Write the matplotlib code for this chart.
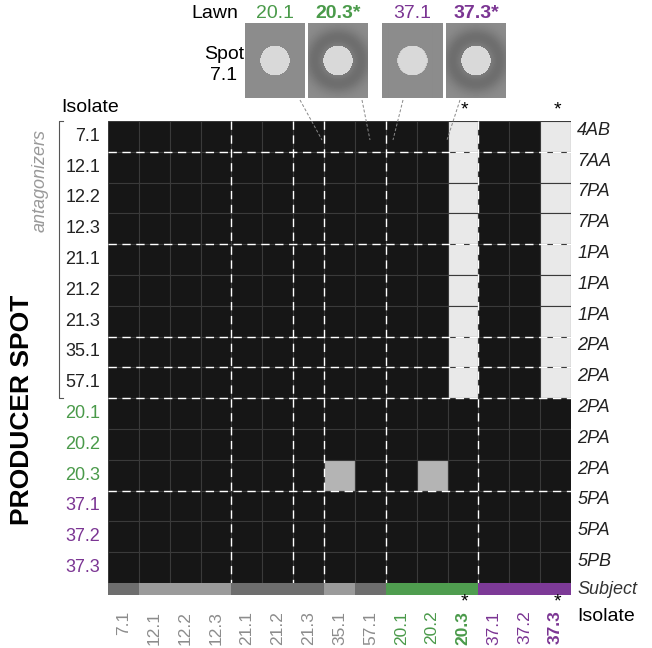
import matplotlib.pyplot as plt
import numpy as np
from matplotlib.patches import Rectangle

plt.rcParams["font.family"] = "Liberation Sans"

isolates = ["7.1", "12.1", "12.2", "12.3", "21.1", "21.2", "21.3", "35.1", "57.1",
            "20.1", "20.2", "20.3", "37.1", "37.2", "37.3"]
groups = ["a"] * 9 + ["g"] * 3 + ["p"] * 3
types = ["4AB", "7AA", "7PA", "7PA", "1PA", "1PA", "1PA", "2PA", "2PA",
         "2PA", "2PA", "2PA", "5PA", "5PA", "5PB"]
subject_cols = ["#6e6e6e", "#9b9b9b", "#9b9b9b", "#9b9b9b", "#6e6e6e", "#6e6e6e", "#6e6e6e",
                "#9b9b9b", "#6e6e6e", "#4f9d4f", "#4f9d4f", "#4f9d4f", "#7d3a97", "#7d3a97", "#7d3a97"]
# 0 = no inhibition, 1 = partial, 2 = strong
inhib = np.zeros((15, 15), int)
inhib[0:9, 11] = 2
inhib[0:9, 14] = 2
inhib[11, 7] = 1
inhib[11, 10] = 1
row_dash = [1, 4, 7, 8, 9, 12]
col_dash = [4, 6, 7, 9, 12]
starred = ["20.3", "37.3"]
lawns = ["20.1", "20.3", "37.1", "37.3"]
lawn_halo = [False, True, False, True]

gcol = {"a": "#8c8c8c", "g": "#4a9a4a", "p": "#7b3593"}
cell_cols = {0: "#161616", 1: "#b4b4b4", 2: "#e9e9e9"}

W, H = 652, 648
fig = plt.figure(figsize=(W / 100, H / 100), dpi=100)
L, R, T, B = 108, 571, 121, 583
ax = fig.add_axes([L / W, 1 - B / H, (R - L) / W, (B - T) / H])
ax.set_xlim(0, 15)
ax.set_ylim(15, 0)
ax.axis("off")
for i in range(15):
    for j in range(15):
        ax.add_patch(Rectangle((j, i), 1, 1, fc=cell_cols[inhib[i, j]], ec="#3a3a3a", lw=0.8))
for r in row_dash:
    ax.plot([0, 15], [r, r], color="white", ls=(0, (6, 4)), lw=1)
for c in col_dash:
    ax.plot([c, c], [0, 15], color="white", ls=(0, (6, 4)), lw=1)
for j in range(15):
    ax.add_patch(Rectangle((j, 15.0), 1, 0.38, fc=subject_cols[j], ec="none", clip_on=False))
    bold = isolates[j] in starred
    ax.text(j + 0.5, 15.9, isolates[j], rotation=90, ha="center", va="top",
            color=gcol[groups[j]], fontsize=12.5, fontweight="bold" if bold else "normal")
    if bold:
        ax.text(j + 0.55, 15.6, "*", ha="center", va="center", fontsize=14)
        ax.text(j + 0.55, -0.35, "*", ha="center", va="center", fontsize=14)
for i in range(15):
    ax.text(-0.25, i + 0.5, isolates[i], ha="right", va="center", fontsize=13,
            color="#222222" if groups[i] == "a" else gcol[groups[i]])
    ax.text(15.2, i + 0.3, types[i], ha="left", va="center", fontsize=13, style="italic", color="#222222")
ax.text(15.2, 15.2, "Subject", ha="left", va="center", fontsize=13, style="italic", color="#333333")
ax.text(15.2, 16.1, "Isolate", ha="left", va="center", fontsize=14)
ax.text(-1.5, -0.45, "Isolate", ha="left", va="center", fontsize=14)
# bracket for antagonizers
ax.plot([-1.45, -1.6, -1.6, -1.45], [0, 0, 9, 9], color="#555555", lw=0.8, clip_on=False)
fig.text(40 / W, 1 - 180 / H, "antagonizers", rotation=90, ha="center", va="center",
         fontsize=13, style="italic", color="#999999")
fig.text(22 / W, 1 - 410 / H, "PRODUCER SPOT", rotation=90, ha="center", va="center",
         fontsize=19, fontweight="bold")

# lawn images
img_x = [245, 308, 382, 446]
line_start = [300, 362, 403, 460]
line_end = [322, 370, 393, 447]
yy, xx = np.mgrid[-1.25:1.25:75j, -1:1:60j]
rr = np.sqrt(xx ** 2 + yy ** 2)
for k, (x0, lw_, halo) in enumerate(zip(img_x, lawns, lawn_halo)):
    iax = fig.add_axes([x0 / W, 1 - 98 / H, 60 / W, 75 / H])
    img = np.full_like(rr, 0.55)
    if halo:
        img = 0.55 - 0.12 * np.exp(-((rr - 0.78) ** 2) / 0.12)
    img[rr < 0.5] = 0.85
    iax.imshow(img, cmap="gray", vmin=0, vmax=1, aspect="auto")
    iax.axis("off")
    g = "g" if lw_.startswith("20") else "p"
    bold = lw_ in starred
    fig.text((x0 + 30) / W, 1 - 13 / H, lw_ + ("*" if bold else ""), ha="center", va="center",
             fontsize=14, color=gcol[g], fontweight="bold" if bold else "normal")
    # dashed pointer line
    fig.add_artist(plt.Line2D([line_start[k] / W, line_end[k] / W],
                              [1 - 100 / H, 1 - 140 / H], color="#888888", lw=0.7, ls=(0, (3, 2))))
fig.text(238 / W, 1 - 13 / H, "Lawn", ha="right", va="center", fontsize=14)
fig.text(224 / W, 1 - 65 / H, "Spot\n7.1", ha="center", va="center", fontsize=14, linespacing=1.3)

fig.savefig("out.png", dpi=100)
